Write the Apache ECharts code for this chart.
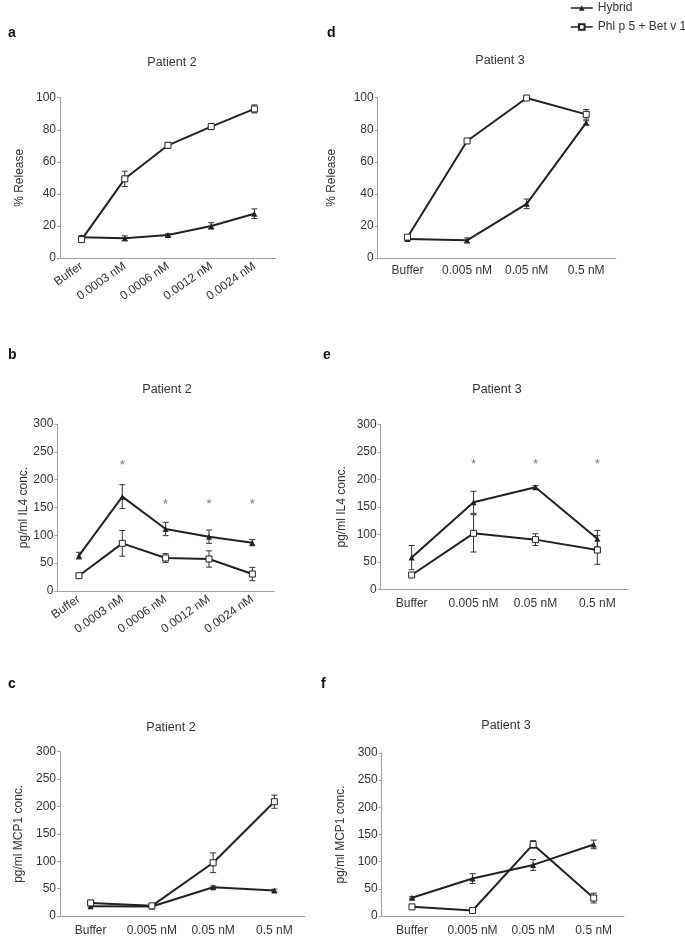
<!DOCTYPE html>
<html>
<head>
<meta charset="utf-8">
<script src="https://cdn.jsdelivr.net/npm/echarts@6/dist/echarts.min.js"></script>
<style>
  html, body { margin: 0; padding: 0; background: #fff; }
  #chart { width: 685px; height: 937px; }
</style>
</head>
<body>
<div id="chart"></div>
<script>
// categories
const catsP2 = ["Buffer", "0.0003 nM", "0.0006 nM", "0.0012 nM", "0.0024 nM"];
const catsP3 = ["Buffer", "0.005 nM", "0.05 nM", "0.5 nM"];

// a - % release, patient 2
const aHybrid = [13, 12.3, 14.3, 20, 27.6];
const aHybridErr = [1, 1.5, 0.8, 2, 3];
const aPhl = [11.5, 49.4, 70.3, 82, 93];
const aPhlErr = [1, 4.8, 1.8, 1.8, 2.5];

// d - % release, patient 3
const dHybrid = [11.8, 11, 33.8, 84.4];
const dHybridErr = [0.8, 1.5, 3, 1.2];
const dPhl = [13, 73, 99.8, 89.6];
const dPhlErr = [1, 0.8, 0.8, 3];

// b - IL4, patient 2
const bHybrid = [63.5, 169.5, 111.4, 97.6, 86.8];
const bHybridErr = [6, 21.5, 12, 12, 5.5];
const bPhl = [27.5, 85.6, 59.3, 57.5, 30.5];
const bPhlErr = [2, 23, 8, 14.6, 12];
const bStars = [null, 226, 155, 155, 155];

// e - IL4, patient 3
const eHybrid = [57.6, 158.2, 185.5, 92];
const eHybridErr = [22, 20, 3, 15];
const ePhl = [26, 101.8, 90.3, 71.5];
const ePhlErr = [3, 34, 10.6, 26];
const eStars = [null, 227, 227, 227];

// c - MCP1, patient 2
const cHybrid = [17.9, 17.3, 52.5, 46.5];
const cHybridErr = [1.5, 1.5, 2.5, 2.5];
const cPhl = [23.9, 18.5, 97.2, 208.7];
const cPhlErr = [2, 1.5, 18, 12];

// f - MCP1, patient 3
const fHybrid = [33.5, 68.9, 94, 131.7];
const fHybridErr = [2, 9, 10, 8];
const fPhl = [16.8, 10.2, 131.7, 33];
const fPhlErr = [1.5, 1.5, 7, 9];

const FONT = "Liberation Sans, Arial, sans-serif";
const TXT = "#333";
const AX = "#a0a0a0";

const panels = [
  { letter: "a", lx: 3, ly: 21, title: "Patient 2", tx: 167, ty: 51,
    grid: { left: 60, top: 97.7, width: 216, height: 160.3 },
    cats: catsP2, rotate: 35, max: 100, interval: 20, yName: "% Release", nameGap: 34, margin: 7,
    hyb: aHybrid, hybErr: aHybridErr, phl: aPhl, phlErr: aPhlErr },
  { letter: "d", lx: 322, ly: 21, title: "Patient 3", tx: 495, ty: 49,
    grid: { left: 377.7, top: 97.7, width: 238.3, height: 160.3 },
    cats: catsP3, rotate: 0, max: 100, interval: 20, yName: "% Release", nameGap: 40, margin: 7,
    hyb: dHybrid, hybErr: dHybridErr, phl: dPhl, phlErr: dPhlErr },
  { letter: "b", lx: 3, ly: 343, title: "Patient 2", tx: 162, ty: 378,
    grid: { left: 57.3, top: 424, width: 216.7, height: 167 },
    cats: catsP2, rotate: 35, max: 300, interval: 50, yName: "pg/ml IL4 conc.", nameGap: 27, margin: 7,
    hyb: bHybrid, hybErr: bHybridErr, phl: bPhl, phlErr: bPhlErr, stars: bStars },
  { letter: "e", lx: 318, ly: 343, title: "Patient 3", tx: 492, ty: 378,
    grid: { left: 380.7, top: 424.3, width: 247.6, height: 165 },
    cats: catsP3, rotate: 0, max: 300, interval: 50, yName: "pg/ml IL4 conc.", nameGap: 33, margin: 8,
    hyb: eHybrid, hybErr: eHybridErr, phl: ePhl, phlErr: ePhlErr, stars: eStars },
  { letter: "c", lx: 3, ly: 672, title: "Patient 2", tx: 166, ty: 716,
    grid: { left: 60, top: 751.7, width: 245, height: 167.6 },
    cats: catsP3, rotate: 0, max: 300, interval: 50, yName: "pg/ml MCP1 conc.", nameGap: 35, margin: 9,
    hyb: cHybrid, hybErr: cHybridErr, phl: cPhl, phlErr: cPhlErr },
  { letter: "f", lx: 316, ly: 672, title: "Patient 3", tx: 501, ty: 714,
    grid: { left: 381.7, top: 753, width: 242.3, height: 167 },
    cats: catsP3, rotate: 0, max: 300, interval: 50, yName: "pg/ml MCP1 conc.", nameGap: 35, margin: 9,
    hyb: fHybrid, hybErr: fHybridErr, phl: fPhl, phlErr: fPhlErr }
];

function errData(vals, errs) {
  return vals.map((v, i) => [i, v - errs[i], v + errs[i]]);
}

function renderErr(params, api) {
  const x = api.value(0);
  const lo = api.coord([x, api.value(1)]);
  const hi = api.coord([x, api.value(2)]);
  const cap = 3;
  const style = { stroke: "#333", lineWidth: 1 };
  return {
    type: "group",
    children: [
      { type: "line", shape: { x1: lo[0], y1: lo[1], x2: hi[0], y2: hi[1] }, style },
      { type: "line", shape: { x1: lo[0] - cap, y1: lo[1], x2: lo[0] + cap, y2: lo[1] }, style },
      { type: "line", shape: { x1: hi[0] - cap, y1: hi[1], x2: hi[0] + cap, y2: hi[1] }, style }
    ]
  };
}

const grids = [], xAxes = [], yAxes = [], series = [], titles = [];

panels.forEach((p, i) => {
  grids.push(p.grid);
  titles.push({ text: p.letter, left: p.lx, top: p.ly,
    textStyle: { fontFamily: FONT, fontSize: 14, fontWeight: "bold", color: "#111" } });
  titles.push({ text: p.title, left: p.tx, top: p.ty, textAlign: "center",
    textStyle: { fontFamily: FONT, fontSize: 12.5, fontWeight: "normal", color: TXT } });
  xAxes.push({
    type: "category", gridIndex: i, data: p.cats, boundaryGap: true,
    axisLine: { lineStyle: { color: AX, width: 1 } },
    axisTick: { alignWithLabel: true, length: 3, lineStyle: { color: AX } },
    axisLabel: { rotate: p.rotate, color: TXT, fontFamily: FONT, fontSize: 12, margin: p.margin, interval: 0 }
  });
  yAxes.push({
    type: "value", gridIndex: i, min: 0, max: p.max, interval: p.interval,
    name: p.yName, nameLocation: "middle", nameRotate: 90, nameGap: p.nameGap,
    nameTextStyle: { fontFamily: FONT, fontSize: 12, color: TXT },
    axisLine: { show: true, lineStyle: { color: AX, width: 1 } },
    axisTick: { show: true, length: 3, lineStyle: { color: AX } },
    splitLine: { show: false },
    axisLabel: { color: TXT, fontFamily: FONT, fontSize: 12, margin: 4 }
  });
  series.push({
    type: "custom", xAxisIndex: i, yAxisIndex: i, z: 1, silent: true,
    renderItem: renderErr, data: errData(p.hyb, p.hybErr)
  });
  series.push({
    type: "custom", xAxisIndex: i, yAxisIndex: i, z: 1, silent: true,
    renderItem: renderErr, data: errData(p.phl, p.phlErr)
  });
  series.push({
    name: "Hybrid", type: "line", xAxisIndex: i, yAxisIndex: i, z: 3,
    data: p.hyb, symbol: "triangle", symbolSize: 6,
    itemStyle: { color: "#222" }, lineStyle: { color: "#222", width: 2 }
  });
  series.push({
    name: "Phl p 5 + Bet v 1", type: "line", xAxisIndex: i, yAxisIndex: i, z: 3,
    data: p.phl, symbol: "rect", symbolSize: 6,
    itemStyle: { color: "#fff", borderColor: "#222", borderWidth: 1 },
    lineStyle: { color: "#222", width: 2 }
  });
  if (p.stars) {
    series.push({
      type: "scatter", xAxisIndex: i, yAxisIndex: i, silent: true,
      data: p.stars, symbolSize: 1, itemStyle: { color: "rgba(0,0,0,0)" },
      label: { show: true, position: "inside", formatter: "*", color: "#555",
        fontFamily: FONT, fontSize: 13 }
    });
  }
});

const chart = echarts.init(document.getElementById("chart"), null, { renderer: "canvas" });
chart.setOption({
  backgroundColor: "#fff",
  animation: false,
  title: titles,
  legend: {
    data: ["Hybrid", "Phl p 5 + Bet v 1"],
    orient: "vertical", left: 565, top: -3,
    itemWidth: 22, itemHeight: 7, itemGap: 7,
    lineStyle: { width: 1.5 },
    textStyle: { fontFamily: FONT, fontSize: 12, color: TXT }
  },
  grid: grids,
  xAxis: xAxes,
  yAxis: yAxes,
  series: series
});
</script>
</body>
</html>
